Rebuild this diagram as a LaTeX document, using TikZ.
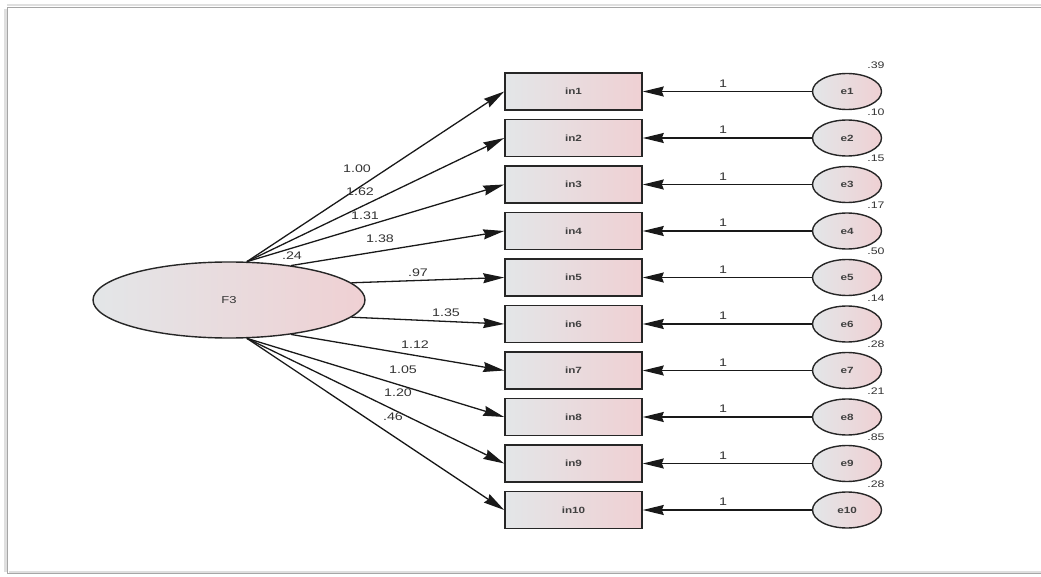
\documentclass[tikz,border=0pt]{standalone}
\usepackage{fontspec}
\setmainfont{Liberation Sans}
\newfontfamily\widefont[FakeStretch=1.3]{Liberation Sans}
\usetikzlibrary{shapes.geometric,arrows.meta}
\definecolor{lgray}{HTML}{E3E6E8}
\definecolor{lpink}{HTML}{EFD0D3}
\tikzset{
  obs/.style={rectangle, draw=black!85, line width=1.6pt, minimum width=137pt, minimum height=37pt, left color=lgray, right color=lpink, font=\widefont\fontsize{9}{10}\selectfont\bfseries, text=black!75},
  err/.style={ellipse, draw=black!85, line width=1.4pt, minimum width=69pt, minimum height=36pt, inner sep=0pt, left color=lgray, right color=lpink, font=\widefont\fontsize{9}{10}\selectfont\bfseries, text=black!75},
  lat/.style={ellipse, draw=black!85, line width=1.4pt, minimum width=272pt, minimum height=76pt, inner sep=0pt, left color=lgray, right color=lpink, font=\widefont\fontsize{10}{12}\selectfont, text=black!80},
  arr/.style={-{Stealth[length=21pt,width=10pt,inset=2pt]}, line width=1.3pt, draw=black!90},
  lbl/.style={font=\widefont\fontsize{11}{13}\selectfont, text=black!80, inner sep=0pt},
  vlbl/.style={font=\widefont\fontsize{9.5}{11}\selectfont, text=black!80, inner sep=0pt}
}
\begin{document}
\begin{tikzpicture}[x=1pt,y=-1pt]
\useasboundingbox (0,0) rectangle (1041,577);
% frame
\draw[gray!25, line width=3pt] (9,572) -- (1041,572);
\draw[gray!25, line width=3pt] (5,9) -- (5,572);
\draw[gray!25, line width=2pt] (7,5.5) -- (1041,5.5);
\draw[gray!70, line width=0.8pt] (7,573) -- (7,7) -- (1041,7);
\draw[gray!70, line width=0.8pt] (7,573) -- (1041,573);
% latent
\node[lat] (F3) at (229,300) {F3};
\node[lbl] (vF3) at (292,256) {.24};
% observed and errors
\foreach \i/\v in {1/.39,2/.10,3/.15,4/.17,5/.50,6/.14,7/.28,8/.21,9/.85,10/.28}{
  \pgfmathsetmacro{\yy}{91.5+46.5*(\i-1)}
  \node[obs] (in\i) at (573.5,\yy) {in\i};
  \node[err] (e\i) at (847,\yy) {e\i};
  \node[vlbl] (v\i) at (876,\yy-26) {\v};
  \draw[arr] (e\i) -- (in\i.east);
  \node[lbl] (one\i) at (723,\yy-8) {1};
}
% loadings
\draw[arr] (F3.65) -- (in1.west);
\draw[arr] (F3.65) -- (in2.west);
\draw[arr] (F3.65) -- (in3.west);
\draw[arr] (F3.29) -- (in4.west);
\draw[arr] (F3.8) -- (in5.west);
\draw[arr] (F3.-8) -- (in6.west);
\draw[arr] (F3.-29) -- (in7.west);
\draw[arr] (F3.-65) -- (in8.west);
\draw[arr] (F3.-65) -- (in9.west);
\draw[arr] (F3.-65) -- (in10.west);
\node[lbl] (l1) at (357,169) {1.00};
\node[lbl] (l2) at (360,192) {1.62};
\node[lbl] (l3) at (365,216) {1.31};
\node[lbl] (l4) at (380,239) {1.38};
\node[lbl] (l5) at (418,273) {.97};
\node[lbl] (l6) at (446,313) {1.35};
\node[lbl] (l7) at (415,345) {1.12};
\node[lbl] (l8) at (403,370) {1.05};
\node[lbl] (l9) at (398,393) {1.20};
\node[lbl] (l10) at (393,417) {.46};
\end{tikzpicture}
\end{document}
